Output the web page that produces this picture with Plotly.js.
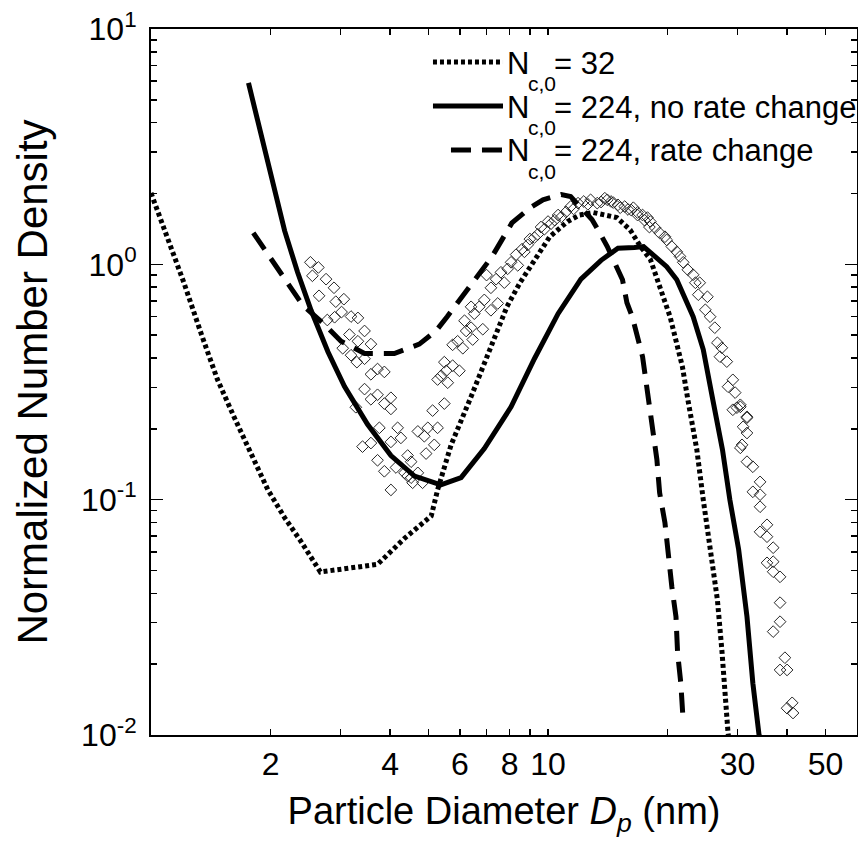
<!DOCTYPE html>
<html>
<head>
<meta charset="utf-8">
<script src="https://cdn.plot.ly/plotly-3.0.1.min.js"></script>
<style>
  html, body { margin: 0; padding: 0; background: #fff; }
  #chart { width: 858px; height: 852px; }
</style>
</head>
<body>
<div id="chart"></div>
<script>
// Simulated size distributions: particle diameter (nm) vs normalized number density
const dpN32 = [1.0, 1.10, 1.21, 1.34, 1.47, 1.62, 1.79, 1.97, 2.17, 2.39, 2.67, 3.72, 4.35, 5.08, 5.27,
  5.70, 6.40, 7.27, 7.88, 8.50, 9.38, 10.1, 11.2, 12.0, 13.0, 14.9, 16.1, 17.1, 18.1, 18.8, 19.5,
  20.3, 20.9, 21.8, 22.5, 23.7, 24.6, 25.6, 26.7, 27.4, 27.9, 28.4, 28.6];
const nN32 = [2.01, 1.30, 0.836, 0.503, 0.324, 0.224, 0.154, 0.110, 0.0839, 0.0662, 0.0493, 0.0531,
  0.0685, 0.0853, 0.110, 0.171, 0.274, 0.465, 0.661, 0.836, 1.08, 1.31, 1.52, 1.62, 1.66, 1.58, 1.40,
  1.19, 1.05, 0.885, 0.728, 0.598, 0.492, 0.367, 0.266, 0.163, 0.10, 0.0612, 0.0376, 0.023, 0.0141,
  0.0102, 0.0095];

const dpN224 = [1.76, 1.97, 2.17, 2.34, 2.53, 2.79, 3.07, 3.51, 4.02, 4.61, 5.37, 6.04, 6.91, 8.07,
  9.24, 10.6, 12.1, 13.6, 15.0, 16.5, 17.4, 19.9, 21.1, 23.2, 24.6, 26.0, 27.5, 28.7, 30.2, 31.7,
  32.8, 34.0, 34.3];
const nN224 = [5.90, 2.73, 1.39, 0.925, 0.638, 0.425, 0.303, 0.209, 0.154, 0.126, 0.1156, 0.124,
  0.165, 0.248, 0.397, 0.617, 0.865, 1.04, 1.17, 1.18, 1.19, 0.977, 0.86, 0.599, 0.434, 0.266, 0.163,
  0.10, 0.0615, 0.0318, 0.0166, 0.0100, 0.0092];

const dpN224Rate = [1.81, 1.95, 2.17, 2.41, 2.73, 3.01, 3.45, 4.10, 4.74, 5.22, 5.57, 6.36, 7.23,
  8.11, 9.01, 9.71, 10.8, 11.4, 11.9, 12.9, 13.5, 14.1, 14.7, 15.4, 15.8, 16.3, 17.3, 17.6, 18.1,
  18.4, 18.8, 19.1, 19.7, 20.5, 21.0, 21.2, 21.6, 21.9];
const nN224Rate = [1.36, 1.13, 0.865, 0.671, 0.557, 0.471, 0.418, 0.418, 0.458, 0.521, 0.599, 0.804,
  1.08, 1.50, 1.74, 1.88, 1.98, 1.94, 1.79, 1.55, 1.36, 1.19, 1.02, 0.86, 0.687, 0.599, 0.405, 0.333,
  0.225, 0.185, 0.148, 0.107, 0.0797, 0.0427, 0.0318, 0.0223, 0.0166, 0.0114];

// Measured distribution (open diamonds)
const dpMeas = [
  2.52, 2.64, 2.55, 2.76, 2.89, 2.65, 2.92, 3.06, 3.02, 3.19, 3.32, 2.78, 2.90, 3.16, 3.04, 3.32,
  3.58, 3.45, 3.19, 3.30, 3.45, 3.58, 3.87, 3.72, 3.45, 3.72, 4.02, 3.58, 3.87, 4.02, 3.28, 3.76,
  4.18, 4.26, 4.02, 3.41, 3.58, 3.72, 3.87, 4.14, 4.43, 4.52, 4.35, 4.52, 4.70, 4.83, 4.02, 4.56,
  4.43,
  4.70, 4.88, 4.98, 5.12, 5.17, 4.93, 5.27, 5.48, 5.27, 5.38, 5.54, 5.59, 5.48, 5.75, 5.98, 5.75,
  5.92, 6.10, 6.22, 6.40, 6.46, 6.16, 6.52, 6.71, 6.91, 6.85, 6.40, 7.18, 7.47, 7.18, 7.40, 7.61,
  7.76, 7.91, 8.07, 8.31, 8.39, 8.72, 8.89, 9.24, 9.42, 9.79, 10.18, 10.4, 10.8, 11.1, 11.4, 11.9,
  12.3, 12.8, 13.3, 13.9, 14.4, 15.0, 15.6, 16.2, 16.8, 17.5, 18.0,
  8.6, 9.0, 10.0, 11.6, 12.6, 13.6, 7.0, 9.6, 10.6,
  14.1, 14.6, 15.2, 15.9, 16.4, 16.8, 17.3, 17.8, 18.1, 18.6, 19.1, 19.7, 19.9, 20.5, 21.1, 21.5,
  21.9, 22.5, 23.2, 24.1, 23.5, 23.9, 25.2, 24.9, 25.6, 26.3, 26.7, 27.4, 27.1, 28.2, 29.2, 28.4,
  29.6, 30.5, 29.9, 31.7, 31.0, 31.7, 30.8,
  29.2, 30.5, 31.7, 30.5, 31.7, 32.8, 34.2, 32.8, 34.2, 34.2, 35.6, 34.2, 35.6, 36.9, 35.6, 36.9,
  36.9, 38.4, 38.4, 38.4, 36.9, 39.5, 38.4, 40.0, 41.2, 40.0, 41.4];
const nMeas = [
  1.02, 0.970, 0.894, 0.865, 0.795, 0.735, 0.694, 0.711, 0.627, 0.600, 0.592, 0.580, 0.596, 0.503,
  0.440, 0.471, 0.458, 0.521, 0.411, 0.384, 0.397, 0.341, 0.349, 0.359, 0.295, 0.279, 0.271, 0.267,
  0.256, 0.243, 0.247, 0.202, 0.202, 0.183, 0.176, 0.168, 0.174, 0.147, 0.132, 0.137, 0.154, 0.145,
  0.130, 0.124, 0.130, 0.118, 0.110, 0.118, 0.126,
  0.195, 0.186, 0.202, 0.239, 0.171, 0.157, 0.202, 0.256, 0.324, 0.336, 0.353, 0.314, 0.384, 0.371,
  0.353, 0.455, 0.471, 0.440, 0.521, 0.538, 0.479, 0.576, 0.617, 0.660, 0.706, 0.530, 0.660, 0.795,
  0.682, 0.638, 0.865, 0.925, 0.836, 0.957, 1.02, 1.10, 0.990, 1.13, 1.21, 1.30, 1.34, 1.41, 1.49,
  1.54, 1.59, 1.67, 1.76, 1.82, 1.85, 1.88, 1.82, 1.91, 1.85, 1.79, 1.76, 1.70, 1.62, 1.54, 1.44,
  1.16, 1.28, 1.52, 1.72, 1.80, 1.84, 0.90, 1.44, 1.62,
  1.88, 1.83, 1.74, 1.71, 1.74, 1.66, 1.62, 1.58, 1.52, 1.43, 1.36, 1.31, 1.27, 1.19, 1.13, 1.08,
  1.02, 0.948, 0.903, 0.835, 0.835, 0.743, 0.728, 0.641, 0.599, 0.538, 0.464, 0.442, 0.405, 0.386,
  0.323, 0.302, 0.285, 0.248, 0.246, 0.225, 0.204, 0.192, 0.171,
  0.241, 0.253, 0.223, 0.166, 0.145, 0.138, 0.119, 0.108, 0.105, 0.0933, 0.0782, 0.0730, 0.0696,
  0.0625, 0.0539, 0.0545, 0.0494, 0.0470, 0.0365, 0.0303, 0.0275, 0.0213, 0.0189, 0.0189, 0.0137,
  0.0130, 0.0124];

// Axis ticks
const xLabelVals = [2, 4, 6, 8, 10, 30, 50];
const xLabelText = ['2', '4', '6', '8', '10', '30', '50'];
const xMinorVals = [2, 3, 4, 5, 6, 7, 8, 9, 20, 30, 40, 50];
const yMajorVals = [0.01, 0.1, 1, 10];
const yMajorText = ['10<sup>-2</sup>', '10<sup>-1</sup>', '10<sup>0</sup>', '10<sup>1</sup>'];
const yMinorVals = [0.02, 0.03, 0.04, 0.05, 0.06, 0.07, 0.08, 0.09,
  0.2, 0.3, 0.4, 0.5, 0.6, 0.7, 0.8, 0.9, 2, 3, 4, 5, 6, 7, 8, 9];

// Legend entries
const legendLabels = ['= 32', '= 224, no rate change', '= 224, rate change'];

const FONT = 'Liberation Sans, Arial, Helvetica, sans-serif';
const DOT = '4px,3px';
const DASH = '20px,11px';

const styleN32 = { color: '#000', width: 5, dash: DOT };
const styleN224 = { color: '#000', width: 5, dash: 'solid' };
const styleRate = { color: '#000', width: 5, dash: DASH };

const traces = [
  {
    x: dpMeas, y: nMeas, type: 'scatter', mode: 'markers', showlegend: false,
    marker: { symbol: 'diamond-open', size: 9, color: '#262626', line: { width: 1, color: '#262626' } },
    hoverinfo: 'x+y'
  },
  { x: dpN32, y: nN32, type: 'scatter', mode: 'lines', showlegend: false, line: styleN32 },
  { x: dpN224, y: nN224, type: 'scatter', mode: 'lines', showlegend: false, line: styleN224 },
  { x: dpN224Rate, y: nN224Rate, type: 'scatter', mode: 'lines', showlegend: false, line: styleRate }
];

// Legend placement in paper coordinates
const rowY = [0.9533, 0.8909, 0.8286];
const rowTextY = [0.9518, 0.8895, 0.8272];
const subDrop = 0.029;
const sampleX0 = [0.3994, 0.3994, 0.4249];
const sampleX1 = 0.4986;
const sampleStyle = [styleN32, styleN224, styleRate];

const shapes = rowY.map((y, i) => ({
  type: 'line', xref: 'paper', yref: 'paper',
  x0: sampleX0[i], x1: sampleX1, y0: y, y1: y, line: sampleStyle[i]
}));

const annotations = [];
rowTextY.forEach((y, i) => {
  annotations.push({ xref: 'paper', yref: 'paper', x: 0.5014, y: y, xanchor: 'left', yanchor: 'middle',
    text: 'N', showarrow: false, font: { family: FONT, size: 31, color: '#000' } });
  annotations.push({ xref: 'paper', yref: 'paper', x: 0.5312, y: y - subDrop, xanchor: 'left', yanchor: 'middle',
    text: 'c,0', showarrow: false, font: { family: FONT, size: 21, color: '#000' } });
  annotations.push({ xref: 'paper', yref: 'paper', x: 0.5680, y: y, xanchor: 'left', yanchor: 'middle',
    text: legendLabels[i], showarrow: false, font: { family: FONT, size: 31, color: '#000' } });
});

const layout = {
  width: 858, height: 852,
  margin: { l: 151, r: 1, t: 29, b: 117, pad: 0 },
  paper_bgcolor: '#fff', plot_bgcolor: '#fff',
  font: { family: FONT, color: '#000' },
  showlegend: false,
  xaxis: {
    type: 'log', range: [0, Math.log10(60)],
    tickmode: 'array', tickvals: xLabelVals, ticktext: xLabelText,
    ticks: 'inside', ticklen: 6, tickwidth: 1.5, tickcolor: '#000',
    minor: { tickmode: 'array', tickvals: xMinorVals, ticks: 'inside', ticklen: 6, tickwidth: 1.5, tickcolor: '#000', showgrid: false },
    tickfont: { family: FONT, size: 32, color: '#000' },
    showline: true, linecolor: '#000', linewidth: 2, mirror: 'ticks',
    showgrid: false, zeroline: false, automargin: false,
    title: { text: 'Particle Diameter <i>D</i><sub><i>p</i></sub> (nm)', font: { family: FONT, size: 38, color: '#000' }, standoff: 16 }
  },
  xaxis2: {
    type: 'log', range: [0, Math.log10(60)], overlaying: 'x', anchor: 'y', side: 'bottom',
    tickmode: 'array', tickvals: [10], ticks: 'inside', ticklen: 12, tickwidth: 1.5, tickcolor: '#000',
    showticklabels: false, showline: false, mirror: 'ticks', showgrid: false, zeroline: false
  },
  yaxis: {
    type: 'log', range: [-2, 1],
    tickmode: 'array', tickvals: yMajorVals, ticktext: yMajorText,
    ticks: 'inside', ticklen: 12, tickwidth: 1.5, tickcolor: '#000', ticklabelstandoff: 6,
    minor: { tickmode: 'array', tickvals: yMinorVals, ticks: 'inside', ticklen: 6, tickwidth: 1.5, tickcolor: '#000', showgrid: false },
    tickfont: { family: FONT, size: 32, color: '#000' },
    showline: true, linecolor: '#000', linewidth: 2, mirror: 'ticks',
    showgrid: false, zeroline: false, automargin: false,
    title: { text: 'Normalized Number Density', font: { family: FONT, size: 42, color: '#000' }, standoff: 20 }
  },
  shapes: shapes,
  annotations: annotations
};

Plotly.newPlot('chart', traces, layout, { staticPlot: true, displayModeBar: false });
</script>
</body>
</html>
